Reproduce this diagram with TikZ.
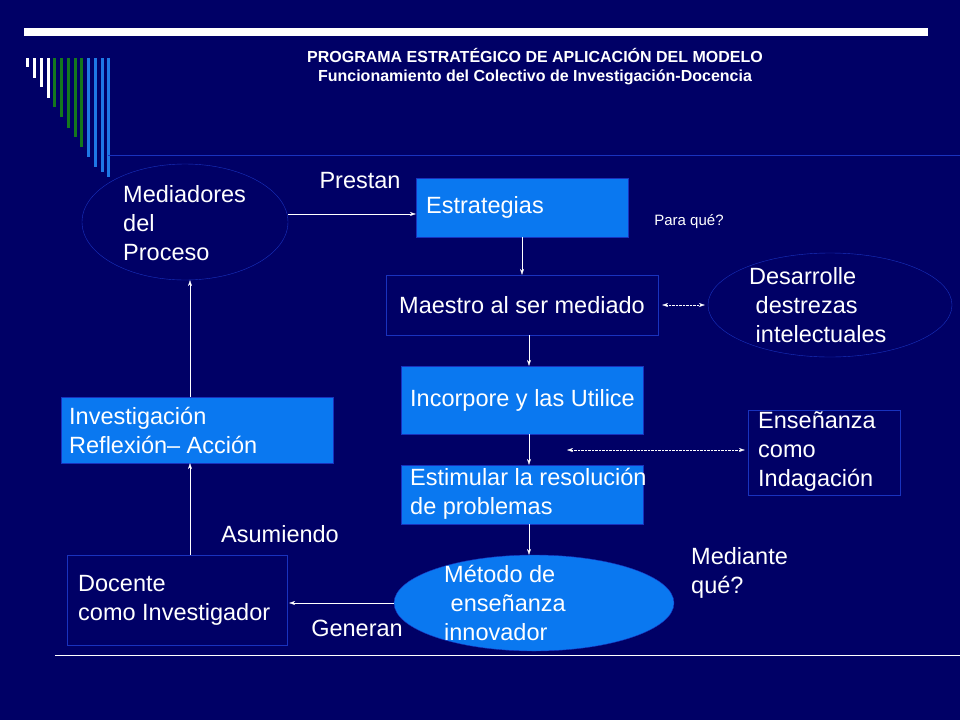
\documentclass[tikz,border=0pt]{standalone}
\usepackage{fontspec}
\setmainfont{Liberation Sans}
\usetikzlibrary{shapes.geometric,arrows.meta}
\definecolor{fondo}{RGB}{0,0,102}
\definecolor{caja}{RGB}{10,120,240}
\definecolor{borde}{RGB}{25,50,190}
\definecolor{verde}{RGB}{20,120,30}
\definecolor{azul}{RGB}{30,120,230}
\tikzset{
  relleno/.style={draw=borde,fill=caja,text=white,inner sep=0pt},
  marco/.style={draw=borde,thin,text=white,inner sep=0pt},
  texto/.style={text=white,font=\fontsize{23.5}{29}\selectfont,align=left,inner sep=0pt},
  flecha/.style={white,thin,-{Stealth[length=6pt,width=4pt]}},
  puntos/.style={white,densely dotted,{Stealth[length=6pt,width=4pt]}-{Stealth[length=6pt,width=4pt]}}
}
\begin{document}
\begin{tikzpicture}[x=1pt,y=-1pt]
\fill[fondo] (0,0) rectangle (960,720);
\useasboundingbox (0,0) rectangle (960,720);
% decoration
\fill[white] (24,28) rectangle (928,36);
\foreach \x/\y/\c in {27/67/white,34/78/white,41/87/white,48/98/white,
  54/107/verde,61/117/verde,68/128/verde,75/137/verde,81/147/verde,
  88/157/azul,95/167/azul,102/172/azul,108/177/azul}
  \fill[\c] (\x-1.5,58) rectangle (\x+1.5,\y);
\draw[borde] (108,155) -- (960,155);
\draw[white] (55,655) -- (960,655);
\node[text=white,font=\bfseries\fontsize{16}{19}\selectfont,align=center] (titulo) at (535,67)
  {PROGRAMA ESTRATÉGICO DE APLICACIÓN DEL MODELO\\Funcionamiento del Colectivo de Investigación-Docencia};
% shapes
\node[marco,ellipse,minimum width=206,minimum height=116] (mediadores) at (185,222) {};
\node[texto,anchor=west] at (123,223) {Mediadores\\del\\Proceso};
\node[relleno,minimum width=212,minimum height=59] (estrategias) at (522,207.5) {};
\node[texto,anchor=west] at (426,207) {Estrategias};
\node[marco,minimum width=272,minimum height=60] (maestro) at (522,305) {};
\node[texto] at (522,305) {Maestro al ser mediado};
\node[marco,ellipse,minimum width=244,minimum height=104] (desarrolle) at (830,305) {};
\node[texto,anchor=west] at (749,305) {Desarrolle\\\ destrezas\\\ intelectuales};
\node[relleno,minimum width=242,minimum height=68] (incorpore) at (522,400) {};
\node[texto,anchor=west] at (410,400) {Incorpore y las Utilice};
\node[marco,minimum width=152,minimum height=85] (ensenanza) at (824,452.5) {};
\node[texto,anchor=west] at (758,452) {Enseñanza\\como\\Indagación};
\node[relleno,minimum width=242,minimum height=59] (estimular) at (522,494.5) {};
\node[texto,anchor=west] at (410,494) {Estimular la resolución\\de problemas};
\node[relleno,minimum width=272,minimum height=66] (investigacion) at (197,430) {};
\node[texto,anchor=west] at (69,430) {Investigación\\Reflexión– Acción};
\node[relleno,ellipse,minimum width=280,minimum height=96] (metodo) at (534,603) {};
\node[texto,anchor=west] at (444,603) {Método de\\\ enseñanza\\innovador};
\node[marco,minimum width=220,minimum height=90] (docente) at (177,600) {};
\node[texto,anchor=west] at (78,600) {Docente\\como Investigador};
% labels
\node[texto] (prestan) at (360,181) {Prestan};
\node[text=white,font=\fontsize{15}{18}\selectfont,inner sep=0pt] (paraque) at (689,222) {Para qué?};
\node[texto] (asumiendo) at (280,534) {Asumiendo};
\node[texto,anchor=west] (mediante) at (691,573) {Mediante\\qué?};
\node[texto] (generan) at (357,628) {Generan};
% connectors
\draw[flecha] (mediadores.east |- 0,214) -- (estrategias.west |- 0,214);
\draw[flecha] (estrategias.south) -- (maestro.north);
\draw[puntos] ([xshift=4pt]maestro.east) -- ([xshift=-3pt]desarrolle.west);
\draw[flecha] ([xshift=7pt]maestro.south) -- ([xshift=7pt]incorpore.north);
\draw[flecha] ([xshift=7pt]incorpore.south) -- ([xshift=7pt]estimular.north);
\coordinate (medio) at (567,450);
\draw[puntos] (medio) -- ([xshift=-3pt]ensenanza.west |- medio);
\draw[flecha] ([xshift=7pt]estimular.south) -- ([xshift=-5pt]metodo.north);
\draw[flecha] (metodo.west) -- ([xshift=2pt]docente.east |- metodo.west);
\draw[flecha] ([xshift=13pt]docente.north) -- ([xshift=-7pt]investigacion.south);
\draw[flecha] ([xshift=-7pt]investigacion.north) -- ([xshift=5pt]mediadores.south);
\end{tikzpicture}
\end{document}
